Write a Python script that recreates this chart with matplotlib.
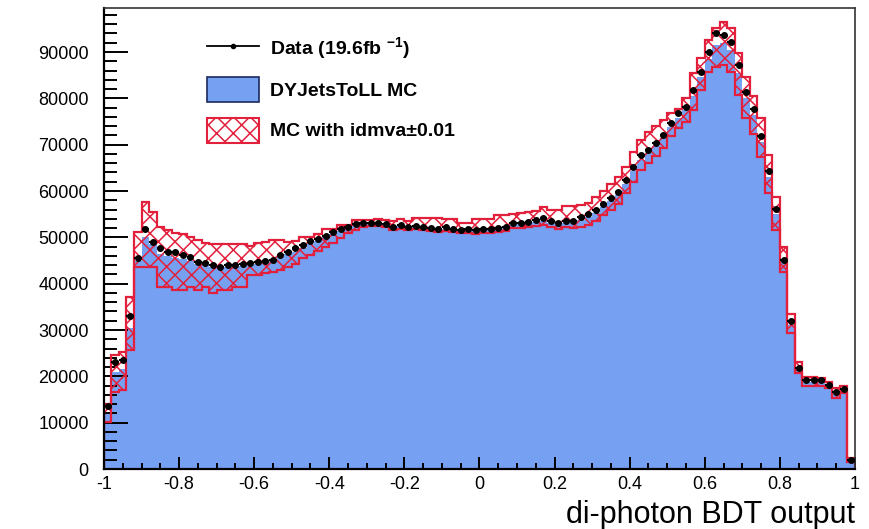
import numpy as np
import matplotlib
matplotlib.use("Agg")
import matplotlib.pyplot as plt
from matplotlib.lines import Line2D
from matplotlib.patches import Patch
from matplotlib.ticker import MultipleLocator, FixedLocator, FixedFormatter

plt.rcParams['font.family'] = ['Liberation Sans', 'DejaVu Sans']
plt.rcParams['mathtext.fontset'] = 'custom'
plt.rcParams['mathtext.rm'] = 'Liberation Sans'
plt.rcParams['mathtext.bf'] = 'Liberation Sans:bold'
plt.rcParams['hatch.linewidth'] = 1.1

# 100 bins of the BDT output, from -1 to 1
bin_lo, bin_hi, n_bins = -1.0, 1.0, 100

# observed events per bin
data = [
    13500, 23000, 23500, 33000, 45500, 51800, 49000, 47600, 46900, 46900,
    46200, 45700, 44700, 44400, 44000, 43500, 44000, 44100, 44200, 44400,
    44700, 44900, 45100, 46200, 46900, 47600, 48300, 49200, 49600, 50300,
    51200, 51700, 52300, 52800, 53000, 53200, 53200, 52900, 52300, 52700,
    52300, 52400, 52300, 52000, 51900, 52200, 51900, 51600, 51800, 51600,
    51700, 51900, 52100, 52300, 53000, 53200, 53400, 53700, 54100, 53600,
    53000, 53600, 53500, 54300, 55000, 55900, 57300, 58500, 59800, 62400,
    65200, 67800, 68800, 70300, 72100, 74600, 76800, 78200, 81800, 85700,
    90000, 94200, 93700, 92200, 87200, 81400, 77700, 71800, 64300, 56200,
    45200, 32000, 21800, 19200, 19300, 19200, 18100, 16700, 17200, 1900,
]

# DY MC, nominal
mc = [
    12000, 21000, 21500, 30500, 45000, 50000, 48500, 46500, 46000, 45500,
    45300, 44800, 44200, 44000, 43500, 43200, 43500, 43700, 43800, 44000,
    44300, 44600, 45000, 45700, 46300, 46900, 47800, 48600, 49200, 50000,
    50800, 51300, 52000, 52600, 52800, 53000, 52900, 52700, 52200, 52400,
    52100, 52200, 52100, 51800, 51700, 51900, 51700, 51300, 51500, 51300,
    51400, 51600, 51800, 52000, 52600, 52800, 53000, 53300, 53600, 53200,
    52700, 53200, 53100, 53800, 54400, 55300, 56600, 57800, 59200, 61500,
    64300, 66800, 68200, 69800, 71400, 73800, 75800, 77500, 80500, 84500,
    88500, 91500, 92000, 90500, 85500, 80000, 76300, 70600, 63000, 55000,
    44800, 31000, 21500, 18700, 18700, 18600, 17800, 16200, 16800, 1800,
]

# MC with idmva shifted up / down by 0.01
mc_up = [
    14000, 24500, 25200, 37200, 51200, 57700, 55500, 52300, 51600, 51000,
    50800, 50100, 49400, 48800, 48500, 48500, 48500, 48500, 48500, 48200,
    48700, 49000, 49400, 49400, 49000, 49200, 50100, 50100, 50800, 51700,
    51700, 52700, 52700, 53700, 53700, 53700, 53900, 53700, 53500, 53900,
    53600, 54100, 54100, 54100, 54100, 54000, 53900, 53200, 53200, 53900,
    53900, 54000, 54800, 54800, 55000, 55300, 55500, 55700, 56500, 56000,
    55800, 56800, 56800, 57000, 57500, 58800, 60000, 61500, 63100, 65200,
    68500, 71000, 72800, 74000, 75300, 76800, 77800, 80000, 85400, 88600,
    92600, 95100, 96500, 95100, 89700, 84700, 80500, 75700, 67800, 58800,
    48000, 33400, 23100, 19900, 19900, 19700, 18800, 17400, 17900, 2300,
]
mc_dn = [
    10200, 16700, 17000, 25700, 43700, 43700, 43600, 39300, 39300, 38600,
    38600, 39300, 38600, 39300, 38000, 38600, 38600, 39300, 39300, 41900,
    41900, 42300, 42600, 43000, 43700, 44300, 45500, 46200, 47000, 48000,
    48700, 49800, 51000, 51600, 52300, 52500, 52400, 52200, 51600, 51900,
    51600, 51700, 51600, 51300, 51200, 51400, 51200, 50900, 51000, 50800,
    50900, 51000, 51200, 51400, 52000, 52100, 52200, 52400, 52700, 52300,
    51700, 52200, 52000, 52300, 52700, 53500, 54800, 56000, 57300, 59500,
    62000, 64500, 66000, 67500, 69300, 71800, 73500, 75000, 77500, 81800,
    85700, 86800, 87200, 85700, 80700, 75700, 72400, 67400, 59600, 51600,
    42600, 29300, 20700, 17900, 18000, 17900, 17500, 15300, 16500, 1500,
]

xticks = [-1, -0.8, -0.6, -0.4, -0.2, 0, 0.2, 0.4, 0.6, 0.8, 1]
xtick_labels = ['-1', '-0.8', '-0.6', '-0.4', '-0.2', '0', '0.2', '0.4', '0.6', '0.8', '1']
yticks = [0, 10000, 20000, 30000, 40000, 50000, 60000, 70000, 80000, 90000]

blue = '#76a0f2'
red = '#e3203c'

edges = np.linspace(bin_lo, bin_hi, n_bins + 1)
centers = 0.5 * (edges[:-1] + edges[1:])
width = edges[1] - edges[0]
data = np.array(data, dtype=float)
mc_up = np.array(mc_up, dtype=float)
mc_dn = np.array(mc_dn, dtype=float)

fig = plt.figure(figsize=(8.7, 5.29), dpi=100)
ax = fig.add_axes([0.1195, 0.1134, 0.8632, 0.8715])

# nominal MC as filled histogram
ax.stairs(mc, edges, fill=True, color=blue, zorder=1)

# idmva variation band: hatched area between the shifted histograms
ax.fill_between(edges, np.append(mc_dn, mc_dn[-1]), np.append(mc_up, mc_up[-1]),
                step='post', facecolor='none', edgecolor=red, hatch='xx',
                linewidth=0, zorder=2)
ax.stairs(mc_up, edges, baseline=0, color=red, linewidth=1.6, zorder=2)
ax.stairs(mc_dn, edges, baseline=None, color=red, linewidth=1.6, zorder=2)

# data points
ax.errorbar(centers, data, xerr=width / 2, yerr=np.sqrt(data), fmt='o',
            color='black', ms=4, lw=1.5, capsize=0, zorder=3)

ax.set_xlim(bin_lo, bin_hi)
ax.set_ylim(0, 99500)

ax.xaxis.set_major_locator(FixedLocator(xticks))
ax.xaxis.set_major_formatter(FixedFormatter(xtick_labels))
ax.xaxis.set_minor_locator(MultipleLocator(0.05))
ax.yaxis.set_major_locator(FixedLocator(yticks))
ax.yaxis.set_major_formatter(FixedFormatter([str(v) for v in yticks]))
ax.yaxis.set_minor_locator(MultipleLocator(2000))

ax.tick_params(axis='both', which='both', direction='in', top=False, right=False,
               width=1.4, colors='black', labelsize=13)
ax.tick_params(axis='y', which='major', length=17, pad=11)
ax.tick_params(axis='y', which='minor', length=9)
ax.tick_params(axis='x', which='major', length=9, pad=5)
ax.tick_params(axis='x', which='minor', length=4.5)
for side in ['left', 'bottom']:
    ax.spines[side].set_linewidth(1.6)
for side in ['top', 'right']:
    ax.spines[side].set_linewidth(1.2)
    ax.spines[side].set_color('#333333')

ax.set_xlabel('di-photon BDT output', fontsize=22, ha='right')
ax.xaxis.set_label_coords(1.0, -0.068)

handles = [
    Line2D([], [], color='black', lw=1.3, marker='o', ms=3),
    Patch(facecolor=blue, edgecolor='#1a2a60', linewidth=1.2),
    Patch(facecolor='white', edgecolor=red, hatch='xx', linewidth=1.5),
]
labels = [r'Data (19.6fb $^{\mathbf{-1}}$)', 'DYJetsToLL MC', 'MC with idmva±0.01']
ax.legend(handles, labels, loc='upper left', bbox_to_anchor=(0.137, 0.94),
          frameon=False, borderpad=0, borderaxespad=0,
          prop={'weight': 'bold', 'size': 14},
          handlelength=2.7, handleheight=1.6, handletextpad=0.55, labelspacing=0.78)

fig.savefig('out.png', dpi=100)
